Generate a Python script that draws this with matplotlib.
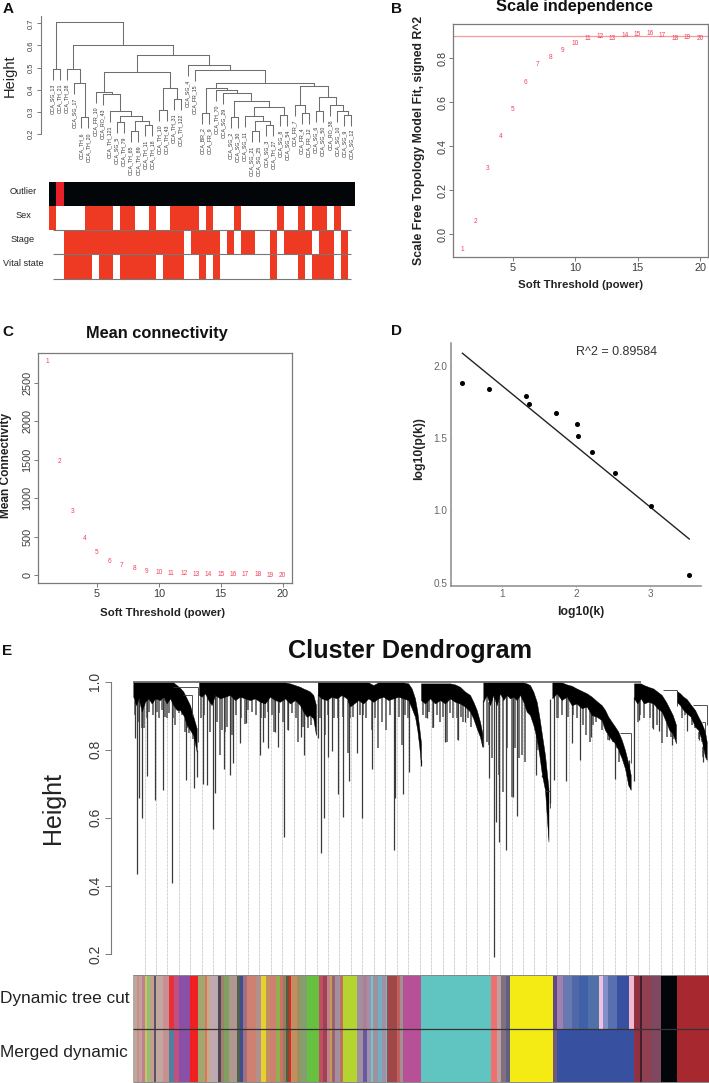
import matplotlib
matplotlib.use('Agg')
import matplotlib.pyplot as plt
import numpy as np

plt.rcParams['font.family'] = ['Liberation Sans', 'DejaVu Sans']

W, H = 709, 1083

# --- panel A: sample tree (merge table, negative = leaf, positive = earlier merge)
leaf_names = ['CCA_SG_13', 'CCA_TH_21', 'CCA_TH_28', 'CCA_SG_17', 'CCA_TH_6', 'CCA_TH_20', 'CCA_FR_10', 'CCA_RO_43',
              'CCA_TH_121', 'CCA_SG_5', 'CCA_TH_79', 'CCA_TH_65', 'CCA_TH_89', 'CCA_TH_11', 'CCA_TH_18', 'CCA_TH_10',
              'CCA_TH_43', 'CCA_TH_31', 'CCA_TH_122', 'CCA_SG_4', 'CCA_FR_15', 'CCA_BR_2', 'CCA_FR_9', 'CCA_TH_70',
              'CCA_SG_29', 'CCA_SG_2', 'CCA_SG_30', 'CCA_SG_11', 'CCA_SG_21', 'CCA_SG_25', 'CCA_SG_3', 'CCA_TH_27',
              'CCA_SG_8', 'CCA_SG_54', 'CCA_FR_7', 'CCA_FR_4', 'CCA_FR_12', 'CCA_SG_6', 'CCA_SG_50', 'CCA_RO_38',
              'CCA_SG_10', 'CCA_SG_9', 'CCA_SG_12']
merge_left = [-1, -5, -4, -3, -10, -12, -14, 6, 5, -9, -8, -7, -16, -18, 13, 12, -22, -26, -29, -31, 19, -28, -33, 22,
              18, -25, -24, 17, -36, -35, -38, -42, -41, -40, 31, 30, 28, -21, -20, 16, 4, 1]
merge_right = [-2, -6, 2, 3, -11, -13, -15, 7, 8, 9, 10, 11, -17, -19, 14, 15, -23, -27, -30, -32, 20, 21, -34, 23,
               24, 25, 26, 27, -37, 29, -39, -43, 32, 33, 34, 35, 36, 37, 38, 39, 40, 41]
merge_height = [.495, .275, .43, .493, .255, .215, .24, .26, .28, .305, .38, .39, .31, .36, .41, .482, .295, .275,
                .215, .24, .26, .28, .285, .32, .347, .385, .40, .408, .295, .33, .303, .288, .302, .33, .365, .415,
                .432, .49, .51, .557, .603, .705]

trait_names = ['Outlier', 'Sex', 'Stage', 'Vital state']
outlier_red = [1]
sex_red = [0, 5, 6, 7, 8, 10, 11, 14, 17, 18, 19, 20, 22, 26, 32, 35, 37, 38, 40]
stage_red = list(range(2, 19)) + [20, 21, 22, 23, 25, 27, 28, 31, 33, 34, 35, 36, 38, 39, 41]
vital_red = [2, 3, 4, 5, 7, 8, 10, 11, 12, 13, 14, 16, 17, 18, 21, 23, 31, 35, 37, 38, 39, 41]

# --- panels B, C, D
powers = list(range(1, 21))
scale_fit = [-.067, .059, .297, .445, .568, .689, .771, .806, .836, .867, .891, .897, .891, .902, .908, .914, .903,
             .889, .895, .889]
mean_conn = [2777, 1475, 826, 480, 294, 182, 121, 82, 52, 35, 26, 17, 13, 9, 9, 7, 5, 4, 3, 2]
log_k = [.465, .829, 1.324, 1.364, 1.733, 2.016, 2.034, 2.213, 2.528, 3.013, 3.53]
log_pk = [1.885, 1.841, 1.79, 1.737, 1.675, 1.601, 1.513, 1.402, 1.257, 1.033, .553]
fit_k = [.47, 3.53]
fit_pk = [2.088, .802]

# --- panel E: dense top of each gene module (position along tree, top and lower edge)
m1_pos = [.3, 3, 5.7, 8.7, 12, 15.3, 18.7, 22, 27, 30.3, 33.7, 37, 40.3, 43.7, 47, 50.3, 53.7, 57, 60.3, 63.7]
m1_top = [.998] * 13 + [.990, .982, .971, .951, .931, .897, .863]
m1_low = [.956, .931, .951, .912, .941, .951, .936, .951, .946, .956, .936, .951, .931, .917, .917, .902, .873, .858,
          .843, .794]
m2_pos = [66, 68.7, 72, 75.3, 78.7, 82, 87, 92, 97, 102, 107, 112, 117, 122, 127, 132, 137, 142, 147, 152, 157, 162,
          167, 170.3, 173.7, 177, 180.3, 183]
m2_top = [.998] * 20 + [.995, .990, .985, .980, .976, .971, .961, .931]
m2_low = [.961, .956, .966, .946, .931, .961, .951, .956, .961, .946, .956, .951, .946, .951, .941, .936, .956, .946,
          .941, .951, .936, .946, .931, .912, .897, .902, .892, .843]
m3_pos = [184.7, 188.7, 193.7, 198.7, 203.7, 208.7, 213.7, 217, 221, 225.3, 230.3, 235.3, 240.3, 245.3, 250.3, 255.3,
          260.3, 265.3, 270.3, 275.3, 278.7, 282, 284.3, 286.3, 288]
m3_top = [.998] * 9 + [.998, .998, .998, .990, .998, .998, .998, .998, .998, .998, .995, .980, .951, .912, .863, .820]
m3_low = [.961, .951, .946, .956, .951, .961, .951, .927, .936, .946, .936, .951, .941, .951, .956, .946, .951, .956,
          .951, .946, .922, .897, .858, .809, .755]
m4_pos = [288, 292, 297, 302, 307, 312, 317, 322, 327, 332, 337, 340.3, 343.7, 347, 349.3]
m4_top = [.995] * 7 + [.992, .985, .971, .961, .941, .917, .882, .848]
m4_low = [.946, .936, .951, .936, .946, .936, .951, .941, .936, .927, .912, .892, .863, .838, .809]
m5_pos = [350.3, 353.7, 357, 360.3, 363.7, 367, 370.3, 373.7, 377, 380.3, 383.7, 387, 390.3, 393.7, 397, 400.3, 403.7,
          406.3, 409, 412, 415.5]
m5_top = [.998] * 13 + [.995, .990, .971, .941, .897, .843, .784, .686]
m5_low = [.941, .961, .931, .961, .931, .966, .946, .961, .951, .956, .946, .961, .941, .912, .902, .873, .833, .784,
          .726, .682, .530]
m6_pos = [419.3, 423.7, 428.7, 433.7, 438.7, 443.7, 448.7, 453.7, 458.7, 463.7, 468.7, 472, 475.3, 478.7, 482, 485.3,
          488.7, 492, 495.3, 497.7]
m6_top = [.998, .998, .998, .992, .988, .980, .973, .966, .956, .943, .931, .917, .897, .882, .868, .853, .829, .799,
          .760, .726]
m6_low = [.951, .966, .946, .956, .931, .936, .922, .927, .902, .897, .887, .858, .843, .829, .819, .799, .775, .745,
          .696, .682]
m7_pos = [501, 504.3, 507.7, 511, 515.3, 520.3, 524.3, 528.7, 533, 536.3, 539.7, 543]
m7_top = [.995, .995, .995, .990, .985, .980, .971, .961, .941, .922, .902, .873]
m7_low = [.951, .936, .951, .936, .941, .936, .922, .912, .882, .858, .848, .819]
m8_pos = [543.7, 547, 550.3, 553.7, 557.7, 562, 565.3, 568.7, 572, 573.7]
m8_top = [.973, .966, .956, .949, .933, .917, .897, .878, .853, .824]
m8_low = [.941, .931, .917, .907, .897, .868, .858, .829, .78, .77]
module_pos = [m1_pos, m2_pos, m3_pos, m4_pos, m5_pos, m6_pos, m7_pos, m8_pos]
module_top = [m1_top, m2_top, m3_top, m4_top, m5_top, m6_top, m7_top, m8_top]
module_low = [m1_low, m2_low, m3_low, m4_low, m5_low, m6_low, m7_low, m8_low]

# long branches hanging under the dense part
branch_pos = [1.7, 4, 6.3, 9.3, 14, 22.3, 30.3, 39, 53, 60.7, 63.7, 70.3, 74.3, 80, 81.7, 91, 96.7, 100.3, 107, 113,
              127.3, 130, 135.3, 142, 145.3, 151.3, 154.7, 167.7, 171, 184.7, 187.7, 191, 195.3, 199.3, 205, 209.7,
              216.3, 224.3, 228.7, 239, 261.3, 275.7, 262.3, 270, 287.7, 293.7, 300.3, 312, 325.3, 332, 350.3, 356.3,
              361, 362.7, 365.7, 372.7, 383.7, 379.7, 402.7, 409.3, 417.3, 421, 433, 438.7, 446.7, 458.3, 475.7,
              481.7, 496.3, 501, 505.7, 520, 526.3, 539, 553.7, 566.3, 569.7]
branch_bottom = [.836, .434, .657, .598, .724, .652, .682, .408, .711, .687, .721, .699, .696, .566, .672, .742, .726,
                 .760, .819, .878, .784, .824, .804, .853, .809, .543, .858, .838, .786, .836, .498, .598, .778, .797,
                 .670, .601, .709, .789, .599, .742, .506, .735, .659, .669, .752, .892, .868, .824, .829, .882, .809,
                 .716, .192, .589, .530, .504, .605, .662, .726, .721, .643, .711, .708, .819, .770, .838, .829, .714,
                 .770, .708, .887, .860, .855, .814, .855, .829, .765]
fringe_pos = [8.7, 13.7, 26.3, 33.7, 42, 46.3, 54.3, 87, 92, 112, 118.7, 132, 141, 154.7, 165.3, 175.3, 179.7, 192,
              205.3, 215.3, 217, 230.3, 245.3, 253, 268.7, 275.3, 293, 299.7, 307, 313.7, 320.3, 325.3, 330.3, 337.7,
              343.7, 356.3, 370.3, 378.7, 388.7, 403.7, 425.3, 439.7, 452.7, 457, 463, 475.3, 480.3, 486.3, 505.3,
              511, 520.3, 528.7, 537.7, 548.7, 558.7, 566.3, 570.3,
              2, 5.3, 11, 16.3, 20.3, 24.3, 28.7, 32, 36.3, 39.7, 48.7, 52, 56.3, 59.7, 67.7, 71, 77, 84.3, 88.7, 94.3,
              98.7, 103, 107.7, 115.3, 123, 127.7, 135.3, 138.7, 146.3, 150.3, 158.7, 162.7, 170.3, 177.7, 187, 195.3,
              201, 210.3, 220.3, 227, 233, 238.7, 242, 248.7, 257, 262, 266.3, 272, 289.7, 296.3, 303.7, 310.3, 317,
              323.7, 327.7, 335.3, 353.7, 358.7, 366.3, 373.7, 382, 386.3, 392, 423.7, 428.7, 435.3, 443.7, 450.3,
              460.3, 468.7, 477, 483.7, 507, 517, 524.3, 533.7, 540.3, 552, 562, 568.7]
fringe_bottom = [.863, .892, .892, .892, .873, .907, .863, .784, .853, .877, .912, .892, .853, .858, .824, .863, .892,
                 .843, .892, .789, .892, .902, .804, .858, .814, .892, .892, .863, .882, .824, .892, .828, .882, .868,
                 .873, .814, .677, .662, .784, .799, .892, .902, .843, .824, .882, .828, .824, .765, .882, .892, .863,
                 .819, .838, .892, .873, .833, .78,
                 .902, .882, .863, .912, .902, .912, .917, .897, .907, .892, .902, .853, .848, .833, .892, .902, .853,
                 .882, .858, .868, .843, .902, .892, .917, .902, .892, .912, .902, .907, .882, .907, .892, .868, .873,
                 .892, .902, .892, .897, .897, .902, .892, .858, .892, .882, .902, .892, .897, .902, .902, .912, .902,
                 .897, .907, .892, .897, .892, .824, .775, .726, .804, .804, .775, .765, .892, .902, .897, .892, .873,
                 .873, .858, .853, .804, .902, .892, .873, .838, .833, .902, .863, .824]
# small brackets joining the modules
join_start = [40.3, 50.3, 412, 487, 529.7, 560.3, 568.7]
join_end = [65.3, 58.7, 417, 497.7, 543.7, 574.3, 572]
join_height = [.985, .96, .68, .848, .975, .931, .882]
join_drop = [.824, .90, .63, .76, .93, .873, .848]
guide_pos = [11.5 + 11.47 * i for i in range(50)]

# module colour rows: right edge of each stripe and its colour
stripe_end = [4.3, 6.3, 9, 11.7, 14.3, 17, 21, 23, 30.3, 36.3, 41, 45.7, 57, 65, 72, 74.3, 76.3, 85.3, 87.7, 91, 96.3,
              103.7, 107, 110.3, 113.7, 123, 128.3, 133, 137, 143, 147, 150.3, 153, 156.3, 158, 163.7, 167.7, 173.7,
              186.3, 190.3, 194.3, 197, 199, 202.3, 207, 209.7, 224.3, 230.3, 234.3, 237.7, 240.3, 245.3, 248.7, 253,
              254.3, 263.7, 267, 270.3, 288, 357.6, 363.5, 368, 373.4, 376.6, 419.5, 424, 430, 439, 445.8, 454.8,
              466.1, 469.7, 475.2, 484.2, 496.4, 500.9, 507.3, 509, 518.1, 528, 543.9, 576]
dynamic_colors = ['#b8a8a0', '#d08a80', '#c0a0a0', '#c08090', '#d0c060', '#90c070', '#c0a090', '#605060', '#c0a8a0',
                  '#c89090', '#e83038', '#c05080', '#8a50a8', '#f02020', '#a0a870', '#e07070', '#c8b060', '#c0a8b0',
                  '#504850', '#a08070', '#80a060', '#b09890', '#506050', '#3a5090', '#a07080', '#d08070', '#b09090',
                  '#e8d030', '#c09060', '#d08070', '#90b050', '#d07060', '#908060', '#506040', '#f02020', '#c09060',
                  '#a09060', '#80a070', '#68c040', '#c05060', '#a04050', '#c08090', '#c0a050', '#a06070', '#a090a0',
                  '#c07060', '#b4d430', '#a090a0', '#b08090', '#a090b0', '#70c8c0', '#a090a0', '#70b0c0', '#a090a8',
                  '#70c0c8', '#a04848', '#c06060', '#a09090', '#b85098', '#60c4c0', '#f07070', '#c0a0a0', '#807080',
                  '#606080', '#f4ea14', '#604880', '#a080b0', '#6878b0', '#5068a8', '#4060a8', '#5070a8', '#f0c0e0',
                  '#8090c8', '#5870b0', '#3850a0', '#f4b8d0', '#903040', '#402030', '#904050', '#804860', '#020608',
                  '#a82830']
merged_colors = list(dynamic_colors)
merged_colors[48] = '#6858a0'
merged_colors[10] = '#5080a0'
for i in range(65, 76):
    merged_colors[i] = '#3850a0'
merged_colors[65] = '#705878'
row_names = ['Dynamic tree cut', 'Merged dynamic']

RED = '#f0405a'
LINE = '#7a7a7a'
TICK = '#3c3c3c'

fig = plt.figure(figsize=(W / 100, H / 100), dpi=100)


def px_axes(left, top, right, bottom):
    return fig.add_axes([left / W, 1 - bottom / H, (right - left) / W, (bottom - top) / H])


def px_text(x, y, s, **kw):
    kw.setdefault('ha', 'center')
    kw.setdefault('va', 'center')
    return fig.text(x / W, 1 - y / H, s, **kw)


def r_box(ax, xt, yt, ylabels=None):
    for s in ax.spines.values():
        s.set_color(LINE)
        s.set_linewidth(0.9)
    ax.set_xticks(xt)
    ax.set_yticks(yt)
    if ylabels:
        ax.set_yticklabels(ylabels)
    ax.tick_params(length=2.6, width=0.7, color=LINE, labelcolor=TICK, labelsize=7.8, pad=1.5)
    plt.setp(ax.get_yticklabels(), rotation=90, va='center')


# where a hanging line meets the black part of its module
def canopy_edge(positions):
    edges = []
    for p in positions:
        edge = .95
        for pos, low in zip(module_pos, module_low):
            if pos[0] <= p <= pos[-1]:
                edge = np.interp(p, pos, low) + .004
        edges.append(edge)
    return edges


for x, y, s in [(8, 9, 'A'), (396, 9, 'B'), (8, 332, 'C'), (396, 331, 'D'), (7, 651, 'E')]:
    px_text(x, y, s, fontsize=11, fontweight='bold', color='#111111')

# A - tree
ax = px_axes(49.3, 15, 355, 180)
ax.set_xlim(.5, 43.5)
ax.set_ylim(.2 - 46 / 221.4, .7 + 8.3 / 221.4)
node_x = {}
for n in range(len(merge_height)):
    ends = []
    for child in (merge_left[n], merge_right[n]):
        if child < 0:
            cx = -child
            low = merge_height[n] - .05
            ax.text(cx, low - .016, leaf_names[cx - 1], rotation=90, ha='center', va='top', fontsize=3.75,
                    color='#333333')
        else:
            cx = node_x[child]
            low = merge_height[child - 1]
        ax.plot([cx, cx], [low, merge_height[n]], color='#6e6e6e', lw=0.75, solid_capstyle='butt')
        ends.append(cx)
    ax.plot(ends, [merge_height[n]] * 2, color='#6e6e6e', lw=0.75)
    node_x[n + 1] = sum(ends) / 2
for s in ('top', 'right', 'bottom'):
    ax.spines[s].set_visible(False)
ax.spines['left'].set_position(('outward', 6.2))
ax.spines['left'].set_bounds(.2, .733)
ax.spines['left'].set_color(LINE)
ax.patch.set_alpha(0)
ax.set_xticks([])
ax.set_yticks([.2, .3, .4, .5, .6, .7])
ax.set_yticklabels(['0.2', '0.3', '0.4', '0.5', '0.6', '0.7'], rotation=90, va='center')
ax.tick_params(length=2.6, width=0.7, color=LINE, labelcolor=TICK, labelsize=5.4, pad=1.5)
px_text(10, 76, 'Height', rotation=90, fontsize=10.5, color='#222222')

# A - trait rows
ax = px_axes(49.3, 182.5, 355, 278.5)
ax.set_xlim(0, 43)
ax.set_ylim(4, 0)
ax.axis('off')
ax.bar(range(43), 1, bottom=0, width=1, align='edge',
       color=['#e8202a' if i in outlier_red else '#030608' for i in range(43)])
for row, reds in enumerate([sex_red, stage_red, vital_red], start=1):
    ax.bar(reds, 1, bottom=row, width=1, align='edge', color='#ee3a22')
ax.hlines([2, 3, 4], .55, 42.5, color='#777777', lw=0.8, clip_on=False)
for i, name in enumerate(trait_names):
    px_text(23, 192 + 24 * i, name, fontsize=6.6, color='#222222')

# B
ax = px_axes(453, 24, 708, 257)
ax.set_xlim(.219, 20.64)
ax.set_ylim(-.103, .956)
for p, v in zip(powers, scale_fit):
    ax.text(p, v, str(p), color=RED, fontsize=4.7, ha='center', va='center')
ax.axhline(.9, color='#f59a9a', lw=0.9)
r_box(ax, [5, 10, 15, 20], [0, .2, .4, .6, .8], ['0.0', '0.2', '0.4', '0.6', '0.8'])
px_text(574, 7, 'Scale independence', fontsize=11.8, fontweight='bold', color='#111111')
px_text(581, 285, 'Soft Threshold (power)', fontsize=8.2, fontweight='bold', color='#222222')
px_text(419, 140, 'Scale Free Topology Model Fit, signed R^2', rotation=90, fontsize=8.8, fontweight='bold',
        color='#222222')

# C
ax = px_axes(38.3, 352.7, 291.7, 583.3)
ax.set_xlim(.258, 20.73)
ax.set_ylim(-104, 2889)
for p, v in zip(powers, mean_conn):
    ax.text(p, v, str(p), color=RED, fontsize=4.7, ha='center', va='center')
r_box(ax, [5, 10, 15, 20], [0, 500, 1000, 1500, 2000, 2500])
px_text(157, 334, 'Mean connectivity', fontsize=11.8, fontweight='bold', color='#111111')
px_text(163, 613, 'Soft Threshold (power)', fontsize=8.2, fontweight='bold', color='#222222')
px_text(6.5, 465, 'Mean Connectivity', rotation=90, fontsize=8.6, fontweight='bold', color='#222222')

# D
ax = px_axes(450.7, 342.7, 700.7, 585.7)
ax.set_xlim(.312, 3.684)
ax.set_ylim(.479, 2.161)
ax.plot(fit_k, fit_pk, color='#222222', lw=1)
ax.plot(log_k, log_pk, 'o', color='black', ms=2.6)
for s in ('top', 'right'):
    ax.spines[s].set_visible(False)
for s in ('left', 'bottom'):
    ax.spines[s].set_color('#8a8a8a')
    ax.spines[s].set_linewidth(1.1)
ax.set_xticks([1, 2, 3])
ax.set_yticks([.5, 1, 1.5, 2])
ax.set_yticklabels(['0.5', '1.0', '1.5', '2.0'])
ax.tick_params(length=1, width=0.6, color='#8a8a8a', labelcolor='#666666', labelsize=7.2, pad=1.5)
px_text(576, 352, 'R^2 = 0.89584', ha='left', fontsize=9, color='#333333')
px_text(581, 612, 'log10(k)', fontsize=8.8, fontweight='bold', color='#222222')
px_text(419, 449, 'log10(p(k))', rotation=90, fontsize=8.8, fontweight='bold', color='#222222')

# E - gene tree
ax = px_axes(133, 675, 709, 975)
ax.set_xlim(0, 576)
ax.set_ylim(.138, 1.0197)
ax.vlines(guide_pos, .138, canopy_edge(guide_pos), color='#a0a0a0', lw=0.5, linestyles=(0, (1, 1)), zorder=1)
ax.vlines(fringe_pos, canopy_edge(fringe_pos), np.minimum(fringe_bottom, canopy_edge(fringe_pos)), color='#5e5e5e',
          lw=1.2, zorder=2)
ax.vlines(branch_pos, canopy_edge(branch_pos), branch_bottom, color='#3a3a3a', lw=0.9, zorder=2)
for pos, top, low in zip(module_pos, module_top, module_low):
    ax.fill_between(pos, low, top, color='black', lw=0.3, zorder=3)
ax.hlines(.998, 0, 508, color='#555555', lw=1.1, zorder=4)
ax.hlines(join_height, join_start, join_end, color='#333333', lw=0.6, zorder=4)
ax.vlines(join_end, join_drop, join_height, color='#333333', lw=0.6, zorder=4)
for s in ('top', 'right', 'bottom'):
    ax.spines[s].set_visible(False)
ax.spines['left'].set_position(('outward', 16))
ax.spines['left'].set_bounds(.2, 1)
ax.spines['left'].set_color(LINE)
ax.patch.set_alpha(0)
ax.set_xticks([])
ax.set_yticks([.2, .4, .6, .8, 1])
ax.set_yticklabels(['0.2', '0.4', '0.6', '0.8', '1.0'], rotation=90, va='center')
ax.tick_params(length=4, width=0.7, color=LINE, labelcolor=TICK, labelsize=10, pad=2)
px_text(410, 651, 'Cluster Dendrogram', fontsize=18.2, fontweight='bold', color='#111111')
px_text(53, 808, 'Height', rotation=90, fontsize=18, color='#222222')

# E - colour rows
ax = px_axes(133, 975, 709, 1082)
ax.set_xlim(0, 576)
ax.set_ylim(2, 0)
ax.axis('off')
stripe_start = [0] + stripe_end[:-1]
widths = [e - s for s, e in zip(stripe_start, stripe_end)]
ax.bar(stripe_start, 1, bottom=0, width=widths, align='edge', color=dynamic_colors, lw=0)
ax.bar(stripe_start, 1, bottom=1, width=widths, align='edge', color=merged_colors, lw=0)
ax.hlines(1, 0, 576, color='#333333', lw=0.9)
ax.hlines([0, 2], 0, 576, color='#888888', lw=0.7, clip_on=False)
px_text(0, 999, row_names[0], ha='left', fontsize=12.4, color='#222222')
px_text(0, 1052, row_names[1], ha='left', fontsize=12.4, color='#222222')

fig.savefig('out.png', dpi=100)
